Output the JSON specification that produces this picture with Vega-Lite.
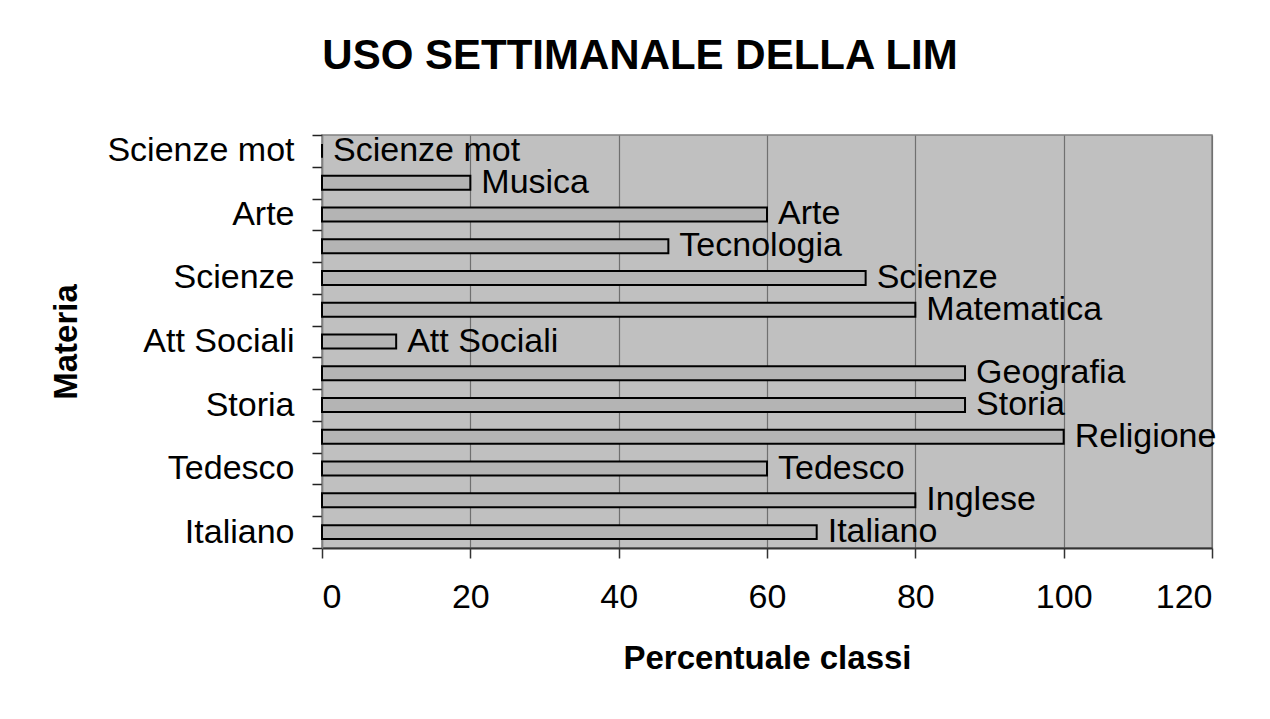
{
  "$schema": "https://vega.github.io/schema/vega-lite/v6.json",
  "width": 890,
  "height": 413,
  "autosize": {"type": "none"},
  "padding": {"left": 322, "top": 135, "right": 58, "bottom": 171},
  "background": "white",
  "title": {
    "text": "USO SETTIMANALE DELLA LIM",
    "font": "Liberation Sans",
    "fontSize": 42,
    "fontWeight": "bold",
    "color": "black",
    "anchor": "middle",
    "baseline": "alphabetic",
    "dx": -127,
    "offset": 7
  },
  "config": {
    "view": {"fill": "#C0C0C0", "stroke": "#808080", "strokeWidth": 1.5},
    "font": "Liberation Sans"
  },
  "data": {
    "values": [
      {"materia": "Scienze mot", "valore": 0},
      {"materia": "Musica", "valore": 20},
      {"materia": "Arte", "valore": 60},
      {"materia": "Tecnologia", "valore": 46.7},
      {"materia": "Scienze", "valore": 73.3},
      {"materia": "Matematica", "valore": 80},
      {"materia": "Att Sociali", "valore": 10},
      {"materia": "Geografia", "valore": 86.7},
      {"materia": "Storia", "valore": 86.7},
      {"materia": "Religione", "valore": 100},
      {"materia": "Tedesco", "valore": 60},
      {"materia": "Inglese", "valore": 80},
      {"materia": "Italiano", "valore": 66.7}
    ]
  },
  "encoding": {
    "y": {
      "field": "materia",
      "type": "nominal",
      "sort": ["Scienze mot", "Musica", "Arte", "Tecnologia", "Scienze", "Matematica", "Att Sociali", "Geografia", "Storia", "Religione", "Tedesco", "Inglese", "Italiano"],
      "scale": {"paddingInner": 0, "paddingOuter": 0},
      "title": "Materia",
      "axis": {
        "tickBand": "extent",
        "tickSize": 10,
        "tickColor": "#222",
        "tickWidth": 1.5,
        "domainColor": "#808080",
        "domainWidth": 1.5,
        "labelFontSize": 34,
        "labelColor": "black",
        "labelPadding": 18,
        "labelLimit": 0,
        "labelExpr": "indexof(['Scienze mot','Arte','Scienze','Att Sociali','Storia','Tedesco','Italiano'], datum.value) >= 0 ? datum.value : ''",
        "titleFontSize": 33,
        "titleFontWeight": "bold",
        "titleColor": "black",
        "titlePadding": 39,
        "grid": false
      }
    },
    "x": {
      "field": "valore",
      "type": "quantitative",
      "scale": {"domain": [0, 120], "nice": false},
      "title": "Percentuale classi",
      "axis": {
        "values": [0, 20, 40, 60, 80, 100, 120],
        "tickSize": 10,
        "tickColor": "#333",
        "tickWidth": 1.5,
        "domainColor": "#333",
        "domainWidth": 2,
        "grid": true,
        "gridColor": "#707070",
        "gridWidth": 1.2,
        "labelFontSize": 34,
        "labelColor": "black",
        "labelPadding": 22,
        "titleFontSize": 33,
        "titleFontWeight": "bold",
        "titleColor": "black",
        "titlePadding": 28
      }
    }
  },
  "layer": [
    {
      "mark": {"type": "bar", "height": {"band": 0.44}, "fill": "#B4B4B4", "stroke": "black", "strokeWidth": 2}
    },
    {
      "mark": {"type": "text", "align": "left", "baseline": "middle", "dx": 11, "fontSize": 34, "color": "black"},
      "encoding": {"text": {"field": "materia"}}
    }
  ]
}
